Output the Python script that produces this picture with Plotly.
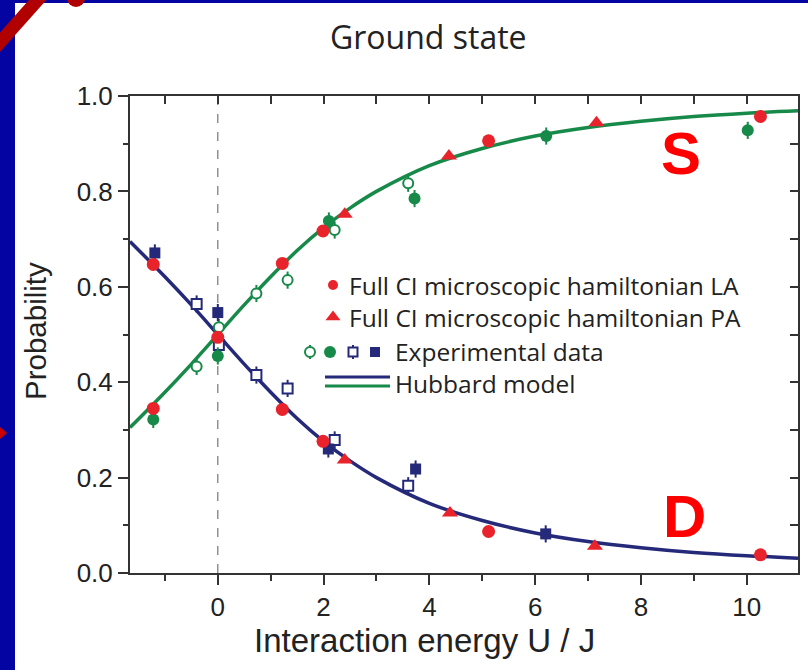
import plotly.graph_objects as go

# ---------------- data ----------------
# Hubbard model curves
hub_x = [-1.66, -1.0, -0.5, 0.0, 0.5, 1.0, 1.5, 2.0, 2.5, 3.0, 4.0, 5.0, 6.0, 7.0, 8.0, 9.0, 10.0, 10.97]
hub_S = [0.305, 0.379, 0.438, 0.500, 0.562, 0.621, 0.676, 0.724, 0.765, 0.800, 0.854, 0.890, 0.916, 0.934, 0.947, 0.957, 0.964, 0.969]
hub_D = [0.695, 0.621, 0.562, 0.500, 0.438, 0.379, 0.324, 0.276, 0.235, 0.200, 0.146, 0.110, 0.084, 0.066, 0.053, 0.043, 0.036, 0.031]

# Full CI microscopic hamiltonian LA (red circles)
la_x = [-1.22, -1.22, 0.0, 1.22, 1.22, 1.99, 1.99, 5.12, 5.12, 10.26, 10.26]
la_y = [0.647, 0.345, 0.494, 0.649, 0.343, 0.717, 0.276, 0.906, 0.087, 0.957, 0.038]

# Full CI microscopic hamiltonian PA (red triangles)
pa_x = [2.40, 2.40, 4.37, 4.39, 7.16, 7.13]
pa_y = [0.752, 0.237, 0.874, 0.126, 0.944, 0.056]

# Experimental data: open symbols
exp_open_x = [-0.40, 0.02, 0.73, 1.32, 2.21, 3.60]
exp_open_S = [0.433, 0.515, 0.586, 0.614, 0.719, 0.817]
exp_open_D = [0.564, 0.478, 0.415, 0.387, 0.279, 0.183]
# Experimental data: filled symbols
exp_fill_S_x = [-1.22, 0.0, 2.10, 3.72, 6.21, 10.02]
exp_fill_S = [0.322, 0.455, 0.738, 0.785, 0.916, 0.928]
exp_fill_D_x = [-1.19, 0.0, 2.09, 3.74, 6.20]
exp_fill_D = [0.671, 0.546, 0.260, 0.218, 0.082]
exp_err = 0.018

x_ticks = [0, 2, 4, 6, 8, 10]
y_ticks = [0.0, 0.2, 0.4, 0.6, 0.8, 1.0]
legend_labels = ["Full CI microscopic hamiltonian LA", "Full CI microscopic hamiltonian PA",
                 "Experimental data", "Hubbard model"]

# ---------------- styles ----------------
GREEN = "#178a4a"
NAVY = "#25297a"
RED = "#e8232b"
TXT = "#222222"
BORDER_BLUE = "#0404a2"
DARK_RED = "#b00000"

W_FIG, H_FIG = 808, 670
L, R, T, B = 130, 10, 96, 97
PW, PH = W_FIG - L - R, H_FIG - T - B


def px(x):
    return (x - L) / PW


def py(y):
    return (T + PH - y) / PH


fig = go.Figure()

# Hubbard model lines
fig.add_trace(go.Scatter(x=hub_x, y=hub_S, mode="lines", line=dict(color=GREEN, width=3.5, shape="spline"),
                         showlegend=False, hoverinfo="skip"))
fig.add_trace(go.Scatter(x=hub_x, y=hub_D, mode="lines", line=dict(color=NAVY, width=3.5, shape="spline"),
                         showlegend=False, hoverinfo="skip"))

# Experimental open symbols
fig.add_trace(go.Scatter(x=exp_open_x, y=exp_open_S, mode="markers",
                         marker=dict(symbol="circle", size=10, color="white", line=dict(color=GREEN, width=2)),
                         error_y=dict(type="constant", value=exp_err, color=GREEN, thickness=2, width=0),
                         showlegend=False))
fig.add_trace(go.Scatter(x=exp_open_x, y=exp_open_D, mode="markers",
                         marker=dict(symbol="square", size=10, color="white", line=dict(color=NAVY, width=2)),
                         error_y=dict(type="constant", value=exp_err, color=NAVY, thickness=2, width=0),
                         showlegend=False))
# Experimental filled symbols
fig.add_trace(go.Scatter(x=exp_fill_S_x, y=exp_fill_S, mode="markers",
                         marker=dict(symbol="circle", size=12, color=GREEN),
                         error_y=dict(type="constant", value=exp_err, color=GREEN, thickness=2, width=0),
                         showlegend=False))
fig.add_trace(go.Scatter(x=exp_fill_D_x, y=exp_fill_D, mode="markers",
                         marker=dict(symbol="square", size=11, color=NAVY),
                         error_y=dict(type="constant", value=exp_err, color=NAVY, thickness=2, width=0),
                         showlegend=False))
# Full CI
fig.add_trace(go.Scatter(x=la_x, y=la_y, mode="markers",
                         marker=dict(symbol="circle", size=13, color=RED), showlegend=False))
fig.add_trace(go.Scatter(x=pa_x, y=pa_y, mode="markers",
                         marker=dict(symbol="triangle-up", size=14, color=RED), showlegend=False))

# dummy trace on the mirror axes so they render
fig.add_trace(go.Scatter(x=[None], y=[None], xaxis="x2", yaxis="y2", showlegend=False, hoverinfo="skip"))

# ---------------- manual legend (overlay axis 0..1 = paper) ----------------
fig.add_trace(go.Scatter(x=[px(333)], y=[py(285)], xaxis="x3", yaxis="y3", mode="markers",
                         marker=dict(symbol="circle", size=10, color=RED), showlegend=False, hoverinfo="skip"))
fig.add_trace(go.Scatter(x=[px(333)], y=[py(317)], xaxis="x3", yaxis="y3", mode="markers",
                         marker=dict(symbol="triangle-up", size=13, color=RED), showlegend=False, hoverinfo="skip"))
fig.add_trace(go.Scatter(x=[px(310)], y=[py(352)], xaxis="x3", yaxis="y3", mode="markers",
                         marker=dict(symbol="circle", size=10, color="white", line=dict(color=GREEN, width=2)),
                         error_y=dict(type="constant", value=7 / PH, color=GREEN, thickness=2, width=0),
                         showlegend=False, hoverinfo="skip"))
fig.add_trace(go.Scatter(x=[px(330)], y=[py(352)], xaxis="x3", yaxis="y3", mode="markers",
                         marker=dict(symbol="circle", size=12, color=GREEN), showlegend=False, hoverinfo="skip"))
fig.add_trace(go.Scatter(x=[px(353)], y=[py(352)], xaxis="x3", yaxis="y3", mode="markers",
                         marker=dict(symbol="square", size=9, color="white", line=dict(color=NAVY, width=2)),
                         error_y=dict(type="constant", value=7 / PH, color=NAVY, thickness=2, width=0),
                         showlegend=False, hoverinfo="skip"))
fig.add_trace(go.Scatter(x=[px(375)], y=[py(352)], xaxis="x3", yaxis="y3", mode="markers",
                         marker=dict(symbol="square", size=10, color=NAVY), showlegend=False, hoverinfo="skip"))

shapes = []
# legend lines
shapes.append(dict(type="line", xref="paper", yref="paper", x0=px(325), x1=px(390), y0=py(377), y1=py(377),
                   line=dict(color=NAVY, width=3)))
shapes.append(dict(type="line", xref="paper", yref="paper", x0=px(325), x1=px(390), y0=py(386), y1=py(386),
                   line=dict(color=GREEN, width=3)))
# dashed vertical line at U=0
shapes.append(dict(type="line", xref="x", yref="paper", x0=0, x1=0, y0=0, y1=1,
                   line=dict(color="#777777", width=1.2, dash="dash"), layer="below"))
# slide decorations
shapes.append(dict(type="rect", xref="paper", yref="paper", x0=px(0), x1=px(15), y0=py(670), y1=py(0),
                   fillcolor=BORDER_BLUE, line=dict(width=0)))
shapes.append(dict(type="rect", xref="paper", yref="paper", x0=px(0), x1=px(808), y0=py(3), y1=py(0),
                   fillcolor=BORDER_BLUE, line=dict(width=0)))
shapes.append(dict(type="line", xref="paper", yref="paper", x0=px(-6), y0=py(49), x1=px(43), y1=py(-6),
                   line=dict(color=DARK_RED, width=13)))
shapes.append(dict(type="circle", xref="paper", yref="paper", x0=px(67), x1=px(85), y0=py(7), y1=py(-11),
                   fillcolor=DARK_RED, line=dict(width=0)))
shapes.append(dict(type="path", xref="paper", yref="paper",
                   path=f"M {px(0)},{py(427)} L {px(7)},{py(433)} L {px(0)},{py(439)} Z",
                   fillcolor="#cc0000", line=dict(width=0)))

annotations = []
leg_font = dict(family="Open Sans", size=24.5, color=TXT)
annotations.append(dict(text="<br>".join(legend_labels[:2]), xref="paper", yref="paper", x=px(347), y=py(301),
                        xanchor="left", yanchor="middle", align="left", showarrow=False, font=leg_font))
annotations.append(dict(text="<br>".join(legend_labels[2:]), xref="paper", yref="paper", x=px(393), y=py(367),
                        xanchor="left", yanchor="middle", align="left", showarrow=False, font=leg_font))
annotations.append(dict(text="Ground state", xref="paper", yref="paper", x=px(428), y=py(36),
                        xanchor="center", yanchor="middle", showarrow=False,
                        font=dict(family="Open Sans", size=32, color=TXT)))
annotations.append(dict(text="Probability", xref="paper", yref="paper", x=px(35), y=py(331),
                        xanchor="center", yanchor="middle", textangle=-90, showarrow=False,
                        font=dict(family="Liberation Sans", size=29.5, color=TXT)))
annotations.append(dict(text="Interaction energy U / J", xref="paper", yref="paper", x=px(424), y=py(640),
                        xanchor="center", yanchor="middle", showarrow=False,
                        font=dict(family="Liberation Sans", size=33, color=TXT)))
annotations.append(dict(text="<b>S</b>", xref="paper", yref="paper", x=px(681), y=py(153),
                        xanchor="center", yanchor="middle", showarrow=False,
                        font=dict(family="Liberation Sans", size=60, color="#ff0000")))
annotations.append(dict(text="<b>D</b>", xref="paper", yref="paper", x=px(684), y=py(516),
                        xanchor="center", yanchor="middle", showarrow=False,
                        font=dict(family="Liberation Sans", size=60, color="#ff0000")))

XR = [-1.66, 10.97]
YR = [0.0, 1.0]
tickfont = dict(family="Liberation Sans", size=26, color=TXT)

fig.update_layout(
    width=W_FIG, height=H_FIG,
    margin=dict(l=L, r=R, t=T, b=B),
    paper_bgcolor="white", plot_bgcolor="white",
    showlegend=False,
    shapes=shapes, annotations=annotations,
    xaxis=dict(range=XR, tickvals=x_ticks, ticktext=[str(v) for v in x_ticks], ticks="outside",
               ticklen=10, tickwidth=2, tickcolor="#333", showline=True, linewidth=2, linecolor="#333",
               showgrid=False, zeroline=False, tickfont=tickfont,
               minor=dict(ticks="outside", dtick=1, tick0=0, ticklen=6, tickwidth=2, tickcolor="#333")),
    yaxis=dict(range=YR, tickvals=y_ticks, ticktext=[f"{v:.1f}" for v in y_ticks], ticks="outside",
               ticklen=10, tickwidth=2, tickcolor="#333", showline=True, linewidth=2, linecolor="#333",
               showgrid=False, zeroline=False, tickfont=tickfont,
               minor=dict(ticks="outside", dtick=0.1, tick0=0, ticklen=5, tickwidth=2, tickcolor="#333")),
    xaxis2=dict(range=XR, overlaying="x", side="top", dtick=1, tick0=0, ticks="inside", ticklen=8,
                tickwidth=2, tickcolor="#333", showticklabels=False, showline=True, linewidth=2,
                linecolor="#333", showgrid=False, zeroline=False),
    yaxis2=dict(range=YR, overlaying="y", side="right", dtick=0.1, tick0=0, ticks="inside", ticklen=8,
                tickwidth=2, tickcolor="#333", showticklabels=False, showline=True, linewidth=2,
                linecolor="#333", showgrid=False, zeroline=False),
    xaxis3=dict(range=[0, 1], overlaying="x", visible=False, fixedrange=True),
    yaxis3=dict(range=[0, 1], overlaying="y", visible=False, fixedrange=True),
)

fig.write_html("out.html")
